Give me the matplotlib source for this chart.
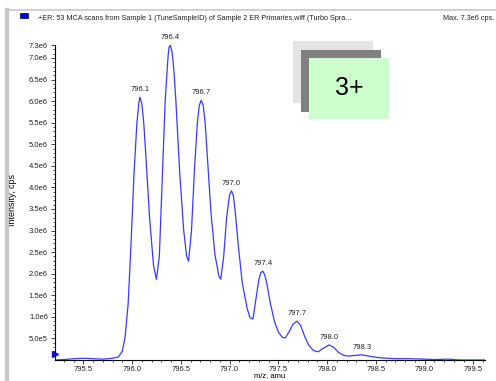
import matplotlib
matplotlib.use("Agg")
import matplotlib.pyplot as plt
from matplotlib.patches import Rectangle
from matplotlib.lines import Line2D
import numpy as np

# m/z values and intensities (in units of 1e6 cps)
mz = [795.20, 795.30, 795.40, 795.50, 795.60, 795.70, 795.80, 795.86, 795.90,
      795.93, 795.96, 795.99, 796.02, 796.05, 796.07, 796.08, 796.10, 796.12,
      796.14, 796.18, 796.22, 796.25, 796.28, 796.31, 796.34, 796.37, 796.38,
      796.39, 796.41, 796.43, 796.45, 796.49, 796.53, 796.56, 796.58, 796.61,
      796.64, 796.67, 796.69, 796.71, 796.73, 796.75, 796.77, 796.81, 796.85,
      796.89, 796.91, 796.94, 796.97, 797.00, 797.02, 797.04, 797.06, 797.09,
      797.13, 797.18, 797.21, 797.24, 797.27, 797.30, 797.32, 797.34, 797.36,
      797.38, 797.42, 797.46, 797.50, 797.54, 797.57, 797.61, 797.65, 797.69,
      797.73, 797.77, 797.81, 797.86, 797.91, 797.96, 798.02, 798.07, 798.12,
      798.17, 798.22, 798.30, 798.36, 798.45, 798.55, 798.70, 798.85, 799.00,
      799.10, 799.25, 799.35, 799.62]
inten = [0.00, 0.01, 0.03, 0.04, 0.03, 0.02, 0.04, 0.07, 0.20,
         0.55, 1.30, 2.70, 4.30, 5.50, 5.95, 6.09, 5.95, 5.50,
         4.80, 3.30, 2.20, 1.87, 2.40, 4.20, 6.00, 7.05, 7.25,
         7.30, 7.15, 6.70, 6.00, 4.30, 3.00, 2.40, 2.29, 3.00,
         4.40, 5.50, 5.90, 6.02, 5.90, 5.50, 4.80, 3.40, 2.45,
         1.95, 1.87, 2.40, 3.30, 3.82, 3.92, 3.80, 3.40, 2.65,
         1.80, 1.20, 0.98, 0.95, 1.40, 1.85, 2.02, 2.06, 1.98,
         1.80, 1.30, 0.90, 0.65, 0.53, 0.51, 0.65, 0.83, 0.90,
         0.80, 0.55, 0.35, 0.22, 0.19, 0.27, 0.35, 0.29, 0.17,
         0.11, 0.09, 0.11, 0.12, 0.08, 0.05, 0.03, 0.03, 0.02,
         0.01, 0.02, 0.00, 0.00]

peak_labels = ["796.1", "796.4", "796.7", "797.0", "797.4", "797.7", "798.0", "798.3"]
peak_x = [796.08, 796.39, 796.71, 797.02, 797.34, 797.69, 798.02, 798.36]
peak_y = [6.09, 7.30, 6.02, 3.92, 2.06, 0.90, 0.35, 0.12]

ytick_vals = [0.5, 1.0, 1.5, 2.0, 2.5, 3.0, 3.5, 4.0, 4.5, 5.0, 5.5, 6.0, 6.5, 7.0, 7.3]
xtick_vals = [795.5, 796.0, 796.5, 797.0, 797.5, 798.0, 798.5, 799.0, 799.5]

title = "+ER: 53 MCA scans from Sample 1 (TuneSampleID) of Sample 2 ER Primaries.wiff (Turbo Spra..."
maxtxt = "Max. 7.3e6 cps."

plt.rcParams['font.family'] = ['Liberation Sans', 'DejaVu Sans']
fig = plt.figure(figsize=(4.96, 3.81), dpi=100, facecolor='white')
W, H = 496, 381
ax = fig.add_axes([55 / W, 1 - 360 / H, (485 - 55) / W, (360 - 45) / H])

ax.plot(mz, inten, color='#3a3aff', lw=0.9)
ax.set_xlim(795.21, 799.62)
ax.set_ylim(0, 7.3)

for s in ['top', 'right']:
    ax.spines[s].set_visible(False)
for s in ['left', 'bottom']:
    ax.spines[s].set_linewidth(0.8)

ax.set_yticks(ytick_vals)
ax.set_yticklabels(["%.1fe5" % 5.0 if v == 0.5 else "%.1fe6" % v for v in ytick_vals])
ax.set_yticks(np.arange(0.1, 7.3, 0.1), minor=True)
ax.set_xticks(xtick_vals)
ax.set_xticklabels(["%.1f" % v for v in xtick_vals])
ax.set_xticks(np.arange(795.3, 799.65, 0.1), minor=True)
ax.tick_params(labelsize=5.5, length=3, width=0.6, pad=2, colors='#222222')
ax.tick_params(axis='x', pad=1)
ax.tick_params(which='minor', length=1.5, width=0.5)

ax.set_xlabel("m/z, amu", fontsize=5.5)
ax.xaxis.set_label_coords((270 - 55) / 430, (360 - 372.5) / 315)
ax.set_ylabel("Intensity, cps", fontsize=6.5)
ax.yaxis.set_label_coords((17 - 55) / 430, (360 - 200) / 315)

for lab, px, py in zip(peak_labels, peak_x, peak_y):
    ax.annotate(lab, (px, py), xytext=(0, 3), textcoords='offset points',
                ha='center', va='bottom', fontsize=5.5, color='#222222')

# marker at the zero level on the y axis
ax.plot([795.21], [0.15], marker='>', color='#1010cc', markersize=4, clip_on=False)

# window frame
fig.add_artist(Line2D([7 / W, 7 / W], [0, 1 - 10 / H], color='#c8c8c8', lw=3))
fig.add_artist(Line2D([7 / W, 1], [1 - 10 / H, 1 - 10 / H], color='#c8c8c8', lw=1.2))
fig.add_artist(Rectangle((20 / W, 1 - 18 / H), 8 / W, 5 / H, facecolor='#0000cc',
                         edgecolor='#000055', lw=0.5))
fig.text(38 / W, 1 - 19 / H, title, fontsize=5.2, ha='left', va='center', color='#222222')
fig.text(494 / W, 1 - 19 / H, maxtxt, fontsize=5.2, ha='right', va='center', color='#222222')

# charge state box
fig.add_artist(Rectangle((293 / W, 1 - 103 / H), 80 / W, 62 / H, facecolor='#e4e4e4', lw=0))
fig.add_artist(Rectangle((301 / W, 1 - 112 / H), 80 / W, 62 / H, facecolor='#808080', lw=0))
fig.add_artist(Rectangle((309 / W, 1 - 119 / H), 80 / W, 61 / H, facecolor='#ccffcc', lw=0))
fig.text(349 / W, 1 - 88 / H, "3+", fontsize=18, ha='center', va='center', color='black')

fig.savefig("out.png", dpi=100)
